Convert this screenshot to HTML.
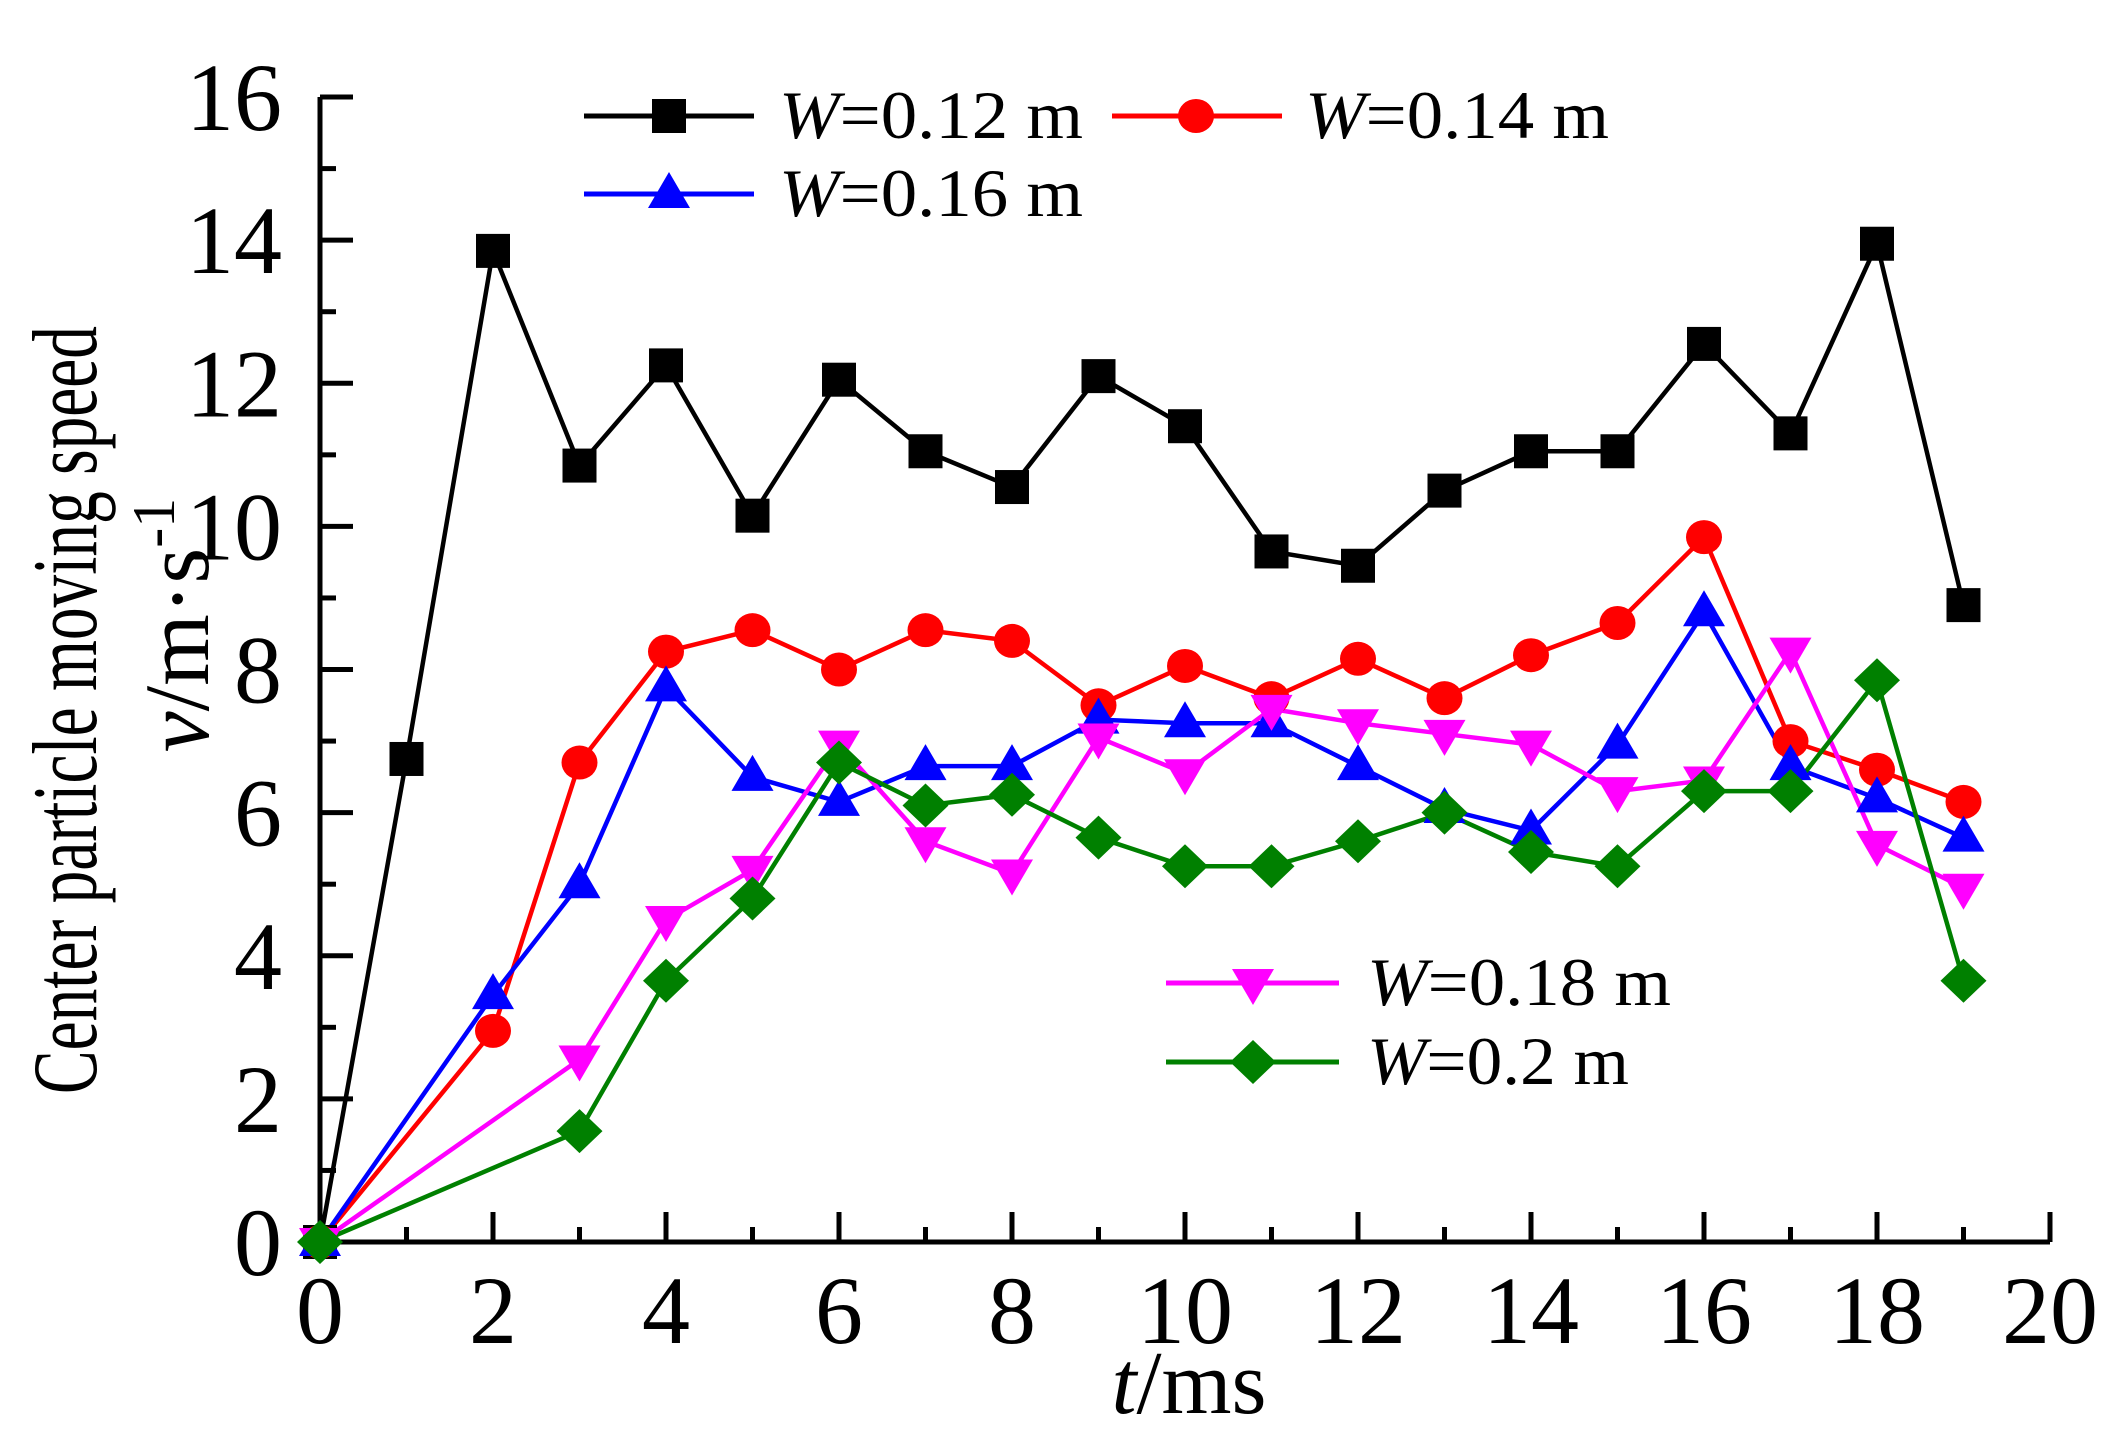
<!DOCTYPE html>
<html><head><meta charset="utf-8"><style>html,body{margin:0;padding:0;background:#fff}svg{display:block}</style></head>
<body>
<svg id="s" width="2120" height="1449" viewBox="0 0 2120 1449" xmlns="http://www.w3.org/2000/svg" font-family="Liberation Serif, serif">
<rect width="2120" height="1449" fill="#fff"/>
<g id="g"></g>
</svg>
<script>
const X0=320,XS=86.5,Y0=1242,YS=71.56;
const px=t=>X0+t*XS, py=v=>Y0-v*YS;
let h='';
h+=`<path d="M${X0} 97 V${Y0} H2050" fill="none" stroke="#000" stroke-width="5"/>`;
for(let i=0;i<=20;i++){const x=px(i);const L=i%2==0?30:15;h+=`<line x1="${x}" y1="${Y0}" x2="${x}" y2="${Y0-L}" stroke="#000" stroke-width="5"/>`;
 if(i%2==0)h+=`<text x="${x}" y="1343" font-size="96" text-anchor="middle">${i}</text>`;}
for(let i=0;i<=16;i++){const y=py(i);const L=i%2==0?33:16;h+=`<line x1="${X0}" y1="${y}" x2="${X0+L}" y2="${y}" stroke="#000" stroke-width="5"/>`;
 if(i%2==0)h+=`<text x="282" y="${y+33}" font-size="96" text-anchor="end">${i}</text>`;}
h+=`<text x="1189" y="1413" font-size="90" text-anchor="middle"><tspan font-style="italic">t</tspan>/ms</text>`;
h+=`<text transform="translate(96,710) rotate(-90)" font-size="92" text-anchor="middle" textLength="768" lengthAdjust="spacingAndGlyphs">Center particle moving speed</text>`;
h+=`<text transform="translate(208,625) rotate(-90)" font-size="92" text-anchor="middle"><tspan font-style="italic">v</tspan>/m·s<tspan dy="-34" font-size="60">-1</tspan></text>`;
const S=[
['#000','sq',[[0,0],[1,6.75],[2,13.85],[3,10.85],[4,12.25],[5,10.15],[6,12.05],[7,11.05],[8,10.55],[9,12.1],[10,11.4],[11,9.65],[12,9.45],[13,10.5],[14,11.05],[15,11.05],[16,12.55],[17,11.3],[18,13.95],[19,8.9]]],
['#f00','ci',[[0,0],[2,2.95],[3,6.7],[4,8.25],[5,8.55],[6,8.0],[7,8.55],[8,8.4],[9,7.5],[10,8.05],[11,7.6],[12,8.15],[13,7.6],[14,8.2],[15,8.65],[16,9.85],[17,7.0],[18,6.6],[19,6.15]]],
['#00f','tu',[[0,0],[2,3.45],[3,5.0],[4,7.75],[5,6.5],[6,6.15],[7,6.65],[8,6.65],[9,7.3],[10,7.25],[11,7.25],[12,6.65],[13,6.05],[14,5.75],[15,6.95],[16,8.8],[17,6.65],[18,6.2],[19,5.65]]],
['#f0f','td',[[0,0],[3,2.55],[4,4.5],[5,5.2],[6,6.95],[7,5.6],[8,5.15],[9,7.05],[10,6.55],[11,7.45],[12,7.25],[13,7.1],[14,6.95],[15,6.3],[16,6.45],[17,8.25],[18,5.55],[19,4.95]]],
['#008000','di',[[0,0],[3,1.55],[4,3.65],[5,4.8],[6,6.7],[7,6.1],[8,6.25],[9,5.65],[10,5.25],[11,5.25],[12,5.6],[13,6.0],[14,5.45],[15,5.25],[16,6.3],[17,6.3],[18,7.85],[19,3.65]]]];
function mk(t,x,y,c){
 if(t=='sq')return `<rect x="${x-17}" y="${y-17}" width="34" height="34" fill="${c}"/>`;
 if(t=='ci')return `<ellipse cx="${x}" cy="${y}" rx="18" ry="17" fill="${c}"/>`;
 if(t=='tu')return `<polygon points="${x},${y-22} ${x-21},${y+14} ${x+21},${y+14}" fill="${c}"/>`;
 if(t=='td')return `<polygon points="${x},${y+22} ${x-21},${y-14} ${x+21},${y-14}" fill="${c}"/>`;
 return `<polygon points="${x},${y-22} ${x+23},${y} ${x},${y+22} ${x-23},${y}" fill="${c}"/>`;}
for(const [c,t,d] of S){h+=`<polyline points="${d.map(p=>px(p[0])+','+py(p[1])).join(' ')}" fill="none" stroke="${c}" stroke-width="4.5"/>`;}
for(const [c,t,d] of S){for(const p of d)h+=mk(t,px(p[0]),py(p[1]),c);}
const L=[['#000','sq',584,754,669,116,779,'0.12'],['#f00','ci',1112,1282,1196,116,1305,'0.14'],['#00f','tu',584,754,669,194,779,'0.16'],['#f0f','td',1166,1339,1253,983,1367,'0.18'],['#008000','di',1166,1339,1253,1062,1367,'0.2']];
for(const [c,t,a,b,m,y,tx,s] of L){h+=`<line x1="${a}" y1="${y}" x2="${b}" y2="${y}" stroke="${c}" stroke-width="5"/>`+mk(t,m,y,c);
 h+=`<text x="${tx}" y="${y+22}" font-size="68" textLength="${s=='0.2'?262:304}" lengthAdjust="spacingAndGlyphs"><tspan font-style="italic">W</tspan>=${s} m</text>`;}
document.getElementById('g').innerHTML=h;
</script>
</body></html>
